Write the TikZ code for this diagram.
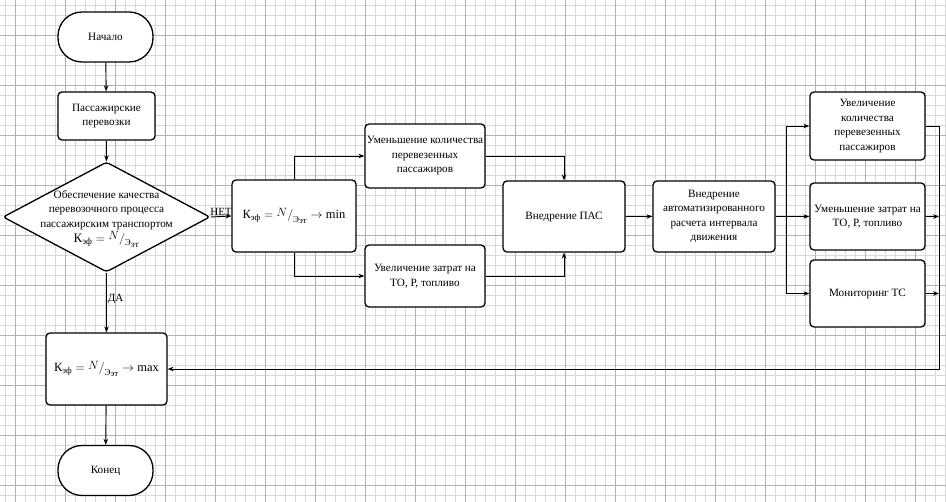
\documentclass[tikz,border=0pt]{standalone}
\usepackage{fontspec}
\usepackage{amsmath}
\setmainfont{Liberation Serif}
\usetikzlibrary{shapes.geometric,arrows.meta}
\newcommand{\Keff}{\text{К}_{\text{эф}}=\raisebox{0.45ex}{$N$}/\raisebox{-0.55ex}{$\text{\small Э}_{\text{эт}}$}}
\tikzset{
  box/.style={draw, line width=1.3pt, rounded corners=4pt, align=center, font=\fontsize{11.2}{14.5}\selectfont, inner sep=1pt},
  term/.style={draw, line width=1.3pt, rounded corners=24pt, minimum width=95pt, minimum height=50pt, font=\fontsize{11.2}{14}\selectfont},
  conn/.style={line width=0.9pt, -{Stealth[length=6pt,width=4.5pt]}},
  plain/.style={line width=0.9pt},
  minorgrid/.style={gray!30, line width=0.4pt},
  majorgrid/.style={gray!60, line width=0.5pt},
  lbl/.style={font=\fontsize{11}{12}\selectfont, inner sep=1pt},
  fml/.style={font=\fontsize{12.5}{14}\selectfont}
}
\begin{document}
\begin{tikzpicture}[x=1pt,y=-1pt]
\useasboundingbox (0,0) rectangle (946,502);
\fill[white] (0,0) rectangle (946,502);
\foreach \x in {5,15,...,945} \draw[minorgrid] (\x,0) -- (\x,502);
\foreach \y in {5,15,...,501} \draw[minorgrid] (0,\y) -- (946,\y);
\foreach \x in {15,65,...,945} \draw[majorgrid] (\x,0) -- (\x,502);
\foreach \y in {35,85,...,501} \draw[majorgrid] (0,\y) -- (946,\y);

% nodes
\node[term, fill=white] (start) at (105.5,37) {Начало};
\node[box, fill=white, minimum width=97pt, minimum height=48pt] (pass) at (106.5,116) {Пассажирские\\перевозки};
\node[diamond, draw, line width=1.3pt, fill=white, minimum width=207pt, minimum height=110pt, inner sep=0pt, rounded corners=3pt] (dec) at (106.5,217) {};
\node[align=center, font=\fontsize{11.2}{14.5}\selectfont] (dectext) at (106.5,219) {Обеспечение качества\\перевозочного процесса\\пассажирским транспортом\\[1pt]{\fontsize{13}{14}\selectfont$\Keff$}};
\node[box, fill=white, fml, minimum width=124pt, minimum height=72pt] (kmin) at (294,216) {$\Keff\to\text{min}$};
\node[box, fill=white, minimum width=120pt, minimum height=64pt] (umen) at (425,156) {Уменьшение количества\\перевезенных\\пассажиров};
\node[box, fill=white, minimum width=120pt, minimum height=62pt] (uvel) at (425,276) {Увеличение затрат на\\ТО, Р, топливо};
\node[box, fill=white, minimum width=122pt, minimum height=71pt] (pas) at (564,216.5) {Внедрение ПАС};
\node[box, fill=white, minimum width=122pt, minimum height=71pt] (auto) at (714,216.5) {Внедрение\\автоматизированного\\расчета интервала\\движения};
\node[box, fill=white, minimum width=115pt, minimum height=68pt] (r1) at (867.5,126) {Увеличение\\количества\\перевезенных\\пассажиров};
\node[box, fill=white, minimum width=115pt, minimum height=67pt] (r2) at (867.5,216.5) {Уменьшение затрат на\\ТО, Р, топливо};
\node[box, fill=white, minimum width=115pt, minimum height=67pt] (r3) at (867.5,293.5) {Мониторинг ТС};
\node[box, fill=white, fml, minimum width=121pt, minimum height=72pt] (kmax) at (106.5,369) {$\Keff\to\text{max}$};
\node[term, fill=white] (end) at (105.5,470.5) {Конец};

\coordinate (split) at (786,216.5);
\coordinate (back) at (939,369);

% connectors
\draw[conn] (start) -- (pass);
\draw[conn] (pass) -- (dec.north);
\draw[conn] (dec.east) -- node[lbl, above] {НЕТ} (kmin.west);
\draw[conn] (dec.south) -- node[lbl, right, pos=0.45] {ДА} (kmax.north);
\draw[conn] (kmax) -- (end);
\draw[conn] (kmin.north) |- (umen.west);
\draw[conn] (kmin.south) |- (uvel.west);
\draw[conn] (umen.east) -| (pas.north);
\draw[conn] (uvel.east) -| (pas.south);
\draw[conn] (pas) -- (auto);
\draw[plain] (auto.east) -- (split);
\draw[conn] (split) |- (r1.west);
\draw[conn] (split) -- (r2.west);
\draw[conn] (split) |- (r3.west);
\draw[conn] (r1.east) -| (back) -- (kmax.east);
\draw[conn] (r2.east) -- (r2.east -| back);
\draw[conn] (r3.east) -- (r3.east -| back);
\end{tikzpicture}
\end{document}
